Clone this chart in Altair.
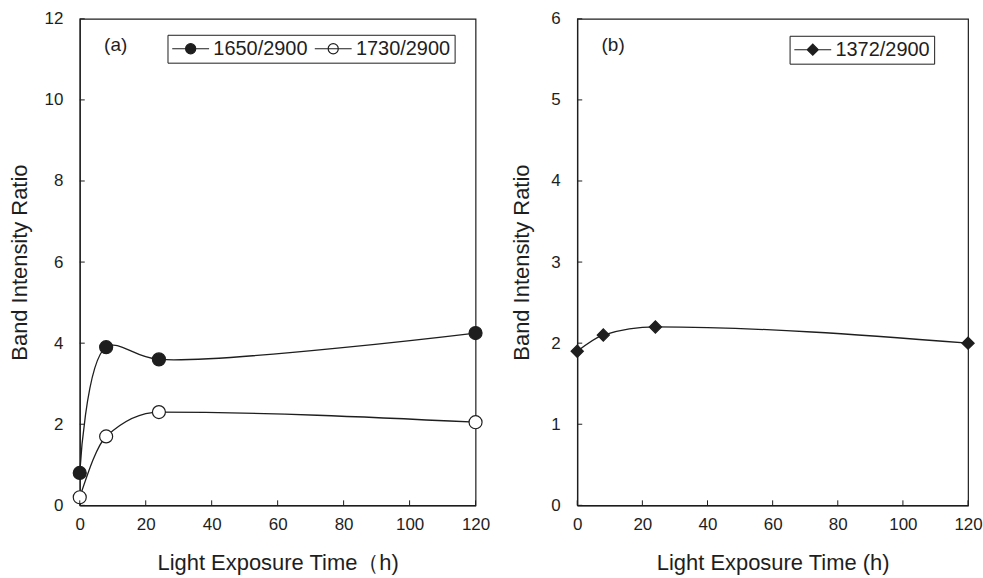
import altair as alt
import pandas as pd

# ---- data ----
hours = [0, 8, 24, 120]
r1650 = [0.8, 3.9, 3.6, 4.25]
r1730 = [0.2, 1.7, 2.3, 2.05]
r1372 = [1.9, 2.1, 2.2, 2.0]
series_a = ["1650/2900", "1730/2900"]
series_b = ["1372/2900"]
x_ticks = [0, 20, 40, 60, 80, 100, 120]
y_ticks_a = [0, 2, 4, 6, 8, 10, 12]
y_ticks_b = [0, 1, 2, 3, 4, 5, 6]

INK = "#1e1e1e"
FONT = "Liberation Sans"
H = 488

df_a = pd.DataFrame({
    "h": hours * 2,
    "r": r1650 + r1730,
    "s": [series_a[0]] * 4 + [series_a[1]] * 4,
})
df_b = pd.DataFrame({"h": hours, "r": r1372, "s": [series_b[0]] * 4})

# legend glyphs: a short line with the marker in its middle (unit box is -1..1)
CIRCLE_SYM = "M-1,0H3M0.45,0A0.55,0.55,0,1,0,1.55,0A0.55,0.55,0,1,0,0.45,0Z"
DIAMOND_SYM = "M-1,0H3M0.4,0L1,-0.6L1.6,0L1,0.6Z"


def panel(df, series, fills, interps, ymax, yticks, shape, size, sym, legx, legy,
          tag, xtitle, title_pad, width):
    xs = alt.Scale(domain=[0, 120], nice=False, zero=False)
    ys = alt.Scale(domain=[0, ymax], nice=False)
    x_axis = alt.Axis(values=x_ticks, title=xtitle, ticks=False, grid=False,
                      labelFlush=False, labelPadding=11, titlePadding=20)
    y_axis = alt.Axis(values=yticks, title="Band Intensity Ratio", ticks=False, grid=False,
                      labelFlush=False, labelPadding=17, titlePadding=title_pad)
    lines = []
    for s, ip in zip(series, interps):
        lines.append(
            alt.Chart(df).transform_filter(alt.datum.s == s).mark_line(
                interpolate=ip, color=INK, strokeWidth=1.3).encode(
                x=alt.X("h:Q", scale=xs, axis=x_axis),
                y=alt.Y("r:Q", scale=ys, axis=y_axis),
            )
        )
    pts = alt.Chart(df).mark_point(shape=shape, size=size, filled=True, stroke=INK,
                                   strokeWidth=1.2, opacity=1).encode(
        x=alt.X("h:Q", scale=xs, axis=x_axis),
        y=alt.Y("r:Q", scale=ys, axis=y_axis),
        fill=alt.Fill("s:N", scale=alt.Scale(domain=series, range=fills),
                      legend=alt.Legend(orient="none", legendX=legx, legendY=legy,
                                        direction="horizontal", title=None,
                                        strokeColor=INK, fillColor="white", padding=4,
                                        symbolType=sym, symbolSize=342,
                                        symbolStrokeColor=INK, symbolStrokeWidth=1.2,
                                        labelFontSize=20, labelFont=FONT, labelColor=INK,
                                        labelOffset=22, columnPadding=4)),
    )
    ytk = alt.Chart(pd.DataFrame({"v": yticks})).mark_rule(color=INK, strokeWidth=1).encode(
        y=alt.Y("v:Q", scale=ys, axis=y_axis), x=alt.value(0), x2=alt.value(5))
    xtk = alt.Chart(pd.DataFrame({"v": x_ticks})).mark_rule(color=INK, strokeWidth=1).encode(
        x=alt.X("v:Q", scale=xs, axis=x_axis), y=alt.value(H), y2=alt.value(H - 5))
    lab = alt.Chart(pd.DataFrame({"t": [tag]})).mark_text(
        font=FONT, fontSize=19, color=INK, align="center", baseline="middle").encode(
        text="t:N", x=alt.value(36), y=alt.value(26))
    return alt.layer(*lines, pts, ytk, xtk, lab).properties(width=width, height=H)


pa = panel(df_a, series_a, [INK, "white"], ["catmull-rom", "monotone"], 12, y_ticks_a,
           "circle", 170, CIRCLE_SYM, 88, 16, "(a)", "Light Exposure Time（h)", 13, 397)
pb = panel(df_b, series_b, [INK], ["monotone"], 6, y_ticks_b, "diamond", 150, DIAMOND_SYM,
           213, 17, "(b)", "Light Exposure Time (h)", 17, 392)

chart = alt.hconcat(pa, pb, spacing=102, bounds="flush").resolve_scale(
    x="independent", y="independent", fill="independent"
).resolve_legend(fill="independent").properties(
    padding={"left": 7, "top": 8, "right": 0, "bottom": 0},
    background="white",
).configure_view(stroke=INK, strokeWidth=1.2).configure_axis(
    domainColor=INK, domainWidth=1.2, labelColor=INK, titleColor=INK,
    labelFont=FONT, titleFont=FONT, labelFontSize=17, titleFontSize=22,
    titleFontWeight="normal",
)

chart.save("out.html", embed_options={"renderer": "svg", "actions": False})
